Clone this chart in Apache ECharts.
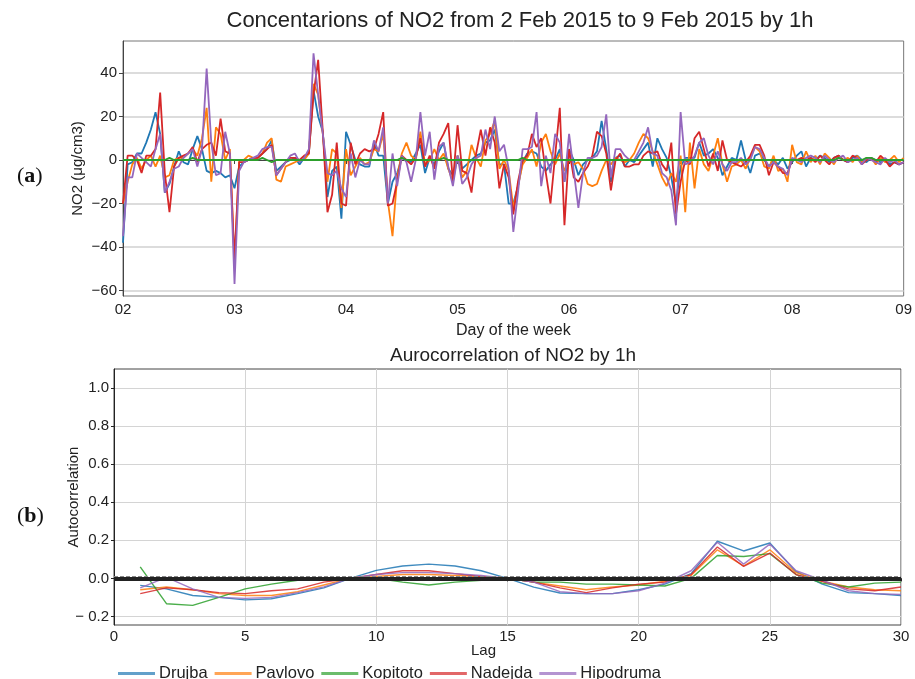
<!DOCTYPE html>
<html>
<head>
<meta charset="utf-8">
<script src="https://cdn.jsdelivr.net/npm/echarts@6/dist/echarts.min.js"></script>
<style>
  html, body { margin: 0; padding: 0; background: #fff; }
  #chart { width: 915px; height: 679px; }
</style>
</head>
<body>
<div id="chart"></div>
<script>
// --- dados: concentracoes horarias (02..09 fev), 169 pontos por estacao ---
const dayLabels = ['02', '03', '04', '05', '06', '07', '08', '09'];
const stations = ['Drujba', 'Pavlovo', 'Kopitoto', 'Nadejda', 'Hipodruma'];
const colors = ['#1f77b4', '#ff7f0e', '#2ca02c', '#d62728', '#9467bd'];

const drujba = [
  -38, -2, -1, 3, 3, 8, 14, 22, 12, -15, -11, -3, 4, -1, -2, 5, 11, 5, -5, -6, -5, -6, -8, -7,
  -13, -3, -1, 0, 1, 1, 3, 5, 9, -5, -3, -1, 0, 1, -2, 1, 3, 32, 20, 13, -17, -5, -3, -27,
  13, 7, 0, -2, -3, -3, 8, 2, 2, -20, -10, -6, 1, 0, -1, 3, 7, -6, 1, -2, 4, 8, -4, -7,
  2, -4, -2, 0, 2, 3, 8, 9, 14, -2, -2, -20, -20, -12, -1, 3, 4, 3, -3, -5, -2, 0, 5, -10,
  5, 0, -7, -2, 0, 1, 4, 18, 5, -10, 1, 2, -3, 0, -1, 2, 5, 8, -3, 10, 5, 1, -8, -20,
  -3, 1, 1, 1, 8, 2, 3, 5, 1, -7, -3, 1, 0, 9, 0, -6, 2, 3, 0, -3, 0, -2, 1, -4,
  -1, 2, 4, -3, 1, 0, 2, 1, -1, 1, 2, 0, -1, 1, 2, 0, -1, 1, 0, -1, 0, -2, -1, -2, -1
];
const pavlovo = [
  -20, -10, -2, 1, -4, 0, 2, -3, 2, -8, -7, 0, 1, 1, 3, 5, 2, 10, 24, -10, 15, 12, 0, 5,
  -48, 0, 0, 2, 1, 1, 3, 8, 10, -9, -10, -3, -2, -1, 0, 0, 3, 35, 30, 12, -10, 5, 3, -22,
  5, -7, -3, 1, -2, -1, 5, 4, 12, -19, -35, -8, 3, 8, 2, 0, 13, -2, 0, 5, 0, 3, -4, -10,
  2, -8, -5, 7, 1, -3, 9, 12, 18, -4, 0, -5, -22, -12, -2, 1, 5, -3, 8, 12, 4, -2, 3, -5,
  0, -2, -1, -4, -11, -12, -11, -5, 0, -2, 1, 0, -1, 0, 3, 8, 12, 10, 4, -2, -8, -12, -6, -10,
  2, -24, 8, -13, 5, -2, -5, 2, 10, -2, -10, -3, -2, 0, -4, 1, 6, 4, -3, -4, 2, -5, -4, -10,
  7, -1, -2, 4, -1, 2, -2, 3, 1, -2, 2, 0, 1, -1, 2, -1, 0, 1, -2, 1, -1, 0, 2, -1, 1
];
const kopitoto = [
  0, 0, 0, 0, 0, 0, 0, 0, 0, 0, 1, 0, 0, 0, 0, 1, 0, 0, 0, 0, 0, 0, 0, 0,
  0, 0, 0, 0, 0, 0, 1, 0, -1, 0, 0, 0, 0, 0, 0, 0, 0, 0, 0, 0, 0, 0, 0, 0,
  0, 0, 0, 0, 0, 0, 0, 0, 0, 0, 0, 0, 1, 0, 0, 0, 0, 0, 0, 0, 0, 1, 0, 0,
  0, 0, 0, 0, 0, 0, 0, 0, 0, 0, 0, 0, 0, 0, 1, 0, 0, 0, 0, 0, 0, 0, 0, 0,
  0, 0, 0, 0, 0, 0, 0, 0, 0, 0, 0, 0, 0, 0, 0, 0, 0, 0, 0, 0, 0, 0, 0, 0,
  0, 0, 0, 0, 0, 0, 0, 0, 0, 0, 0, 0, 0, 0, 0, 0, 0, 0, 0, 0, 0, 0, 0, 0,
  0, 0, 0, 0, 0, 0, 0, 0, 0, 0, 1, 0, 0, 0, 0, 0, 1, 1, 0, 0, 0, 0, 0, 0, 0
];
const nadejda = [
  -20, 2, 2, 0, -6, 2, 2, 5, 31, -6, -24, -3, 1, 2, 3, 6, -1, 5, 7, 8, 2, 19, 4, 3,
  -46, -1, -1, 0, 1, 1, 3, 5, 7, -7, -4, -1, 1, 1, 0, 2, 3, 30, 46, 13, -24, -16, 8, -20,
  -21, 8, -2, 3, 5, 4, 5, 12, 22, -21, -20, -10, 2, 0, -2, 1, 10, -3, 2, -4, 8, 12, 17, -10,
  16, -5, -6, -15, 3, 14, 2, 15, 8, -13, -2, -8, -25, -10, 0, 2, 12, 6, 10, -6, -20, 2, 24, -30,
  5, -8, -10, -6, -3, 2, 13, 11, 3, -14, 0, 3, -3, -3, -2, -2, 2, 4, 3, 4, -2, -5, 8, -25,
  -10, 0, -2, 10, 13, 5, -3, 3, -5, 9, 0, -1, -2, -3, -1, 2, 7, 7, 2, -7, -1, -3, -6, -6,
  0, 0, 1, 0, 1, -1, 2, 0, -2, 1, 2, 0, -1, 2, 1, -2, 0, 1, -1, 2, 0, -3, -1, -2, -1
];
const hipodruma = [
  -35, -8, -8, 3, 1, -1, -3, 5, 12, -15, -10, -4, -3, 1, 3, 5, -3, 5, 42, 8, -7, -6, 13, 3,
  -57, -5, -1, 0, 1, 2, 5, 6, 6, -7, -4, -1, 2, 3, -1, 1, 5, 49, 30, 12, -6, -7, -5, -13,
  -17, 3, -8, 0, -2, -2, 9, 4, 15, -20, 3, -12, 2, -1, -10, 0, 22, 2, 13, -9, 6, 8, -3, -12,
  2, -11, -8, -2, 1, 2, 14, 5, 20, 4, 7, -4, -33, -15, 5, 5, 6, 22, -12, 2, -6, 12, 8, -10,
  12, -5, -22, -6, 1, 1, 2, 6, 21, -8, 5, 5, 2, 0, 0, 4, 8, 15, 3, 2, -6, -8, -14, -30,
  22, -2, -1, 2, 8, 10, 2, -2, 4, -2, -5, -1, -1, 1, -2, 0, 6, 5, 1, -3, -1, -3, -4, -7,
  1, 0, -1, 1, 2, 1, -1, 2, 0, -1, 1, 2, -1, 0, 1, -2, 1, 0, -1, -2, 1, -1, 0, -2, -1
];

// --- dados: autocorrelacao, lags 1..30 ---
const lags = [1, 2, 3, 4, 5, 6, 7, 8, 9, 10, 11, 12, 13, 14, 15, 16, 17, 18, 19, 20, 21, 22, 23, 24, 25, 26, 27, 28, 29, 30];
const acfDrujba = [-0.037, -0.055, -0.09, -0.1, -0.113, -0.107, -0.08, -0.05, 0.0, 0.042, 0.065, 0.075, 0.065, 0.04, 0.0, -0.046, -0.077, -0.08, -0.08, -0.06, -0.03, 0.025, 0.195, 0.144, 0.186, 0.035, -0.03, -0.075, -0.08, -0.09];
const acfPavlovo = [-0.06, -0.045, -0.06, -0.08, -0.09, -0.09, -0.07, -0.035, 0.0, 0.01, 0.02, 0.02, 0.015, 0.01, 0.0, -0.02, -0.04, -0.06, -0.045, -0.035, -0.015, 0.015, 0.15, 0.065, 0.15, 0.03, -0.015, -0.045, -0.06, -0.065];
const acfKopitoto = [0.06, -0.133, -0.142, -0.1, -0.055, -0.03, -0.01, 0.0, 0.0, 0.0, -0.02, -0.035, -0.02, -0.01, 0.0, -0.02, -0.02, -0.03, -0.03, -0.035, -0.04, 0.0, 0.12, 0.115, 0.13, 0.02, -0.025, -0.045, -0.025, -0.02];
const acfNadejda = [-0.08, -0.05, -0.06, -0.075, -0.08, -0.065, -0.055, -0.02, 0.0, 0.02, 0.04, 0.04, 0.025, 0.01, 0.0, -0.02, -0.05, -0.075, -0.05, -0.03, -0.02, 0.02, 0.165, 0.063, 0.133, 0.02, -0.015, -0.055, -0.065, -0.045];
const acfHipodruma = [-0.05, 0.005, -0.055, -0.1, -0.105, -0.1, -0.075, -0.045, 0.0, 0.02, 0.03, 0.03, 0.025, 0.015, 0.0, -0.02, -0.07, -0.08, -0.08, -0.065, -0.025, 0.04, 0.19, 0.075, 0.18, 0.04, -0.01, -0.065, -0.08, -0.085];

const topTicks = [-60, -40, -20, 0, 20, 40];
const bottomTicks = [-0.2, 0, 0.2, 0.4, 0.6, 0.8, 1.0];
const confBand = 0.012;

const FONT = "'Liberation Sans', Arial, sans-serif";
const minus = (s) => String(s).replace('-', '\u2212');

const serieHoraria = [drujba, pavlovo, kopitoto, nadejda, hipodruma];
const serieAcf = [acfDrujba, acfPavlovo, acfKopitoto, acfNadejda, acfHipodruma];

const series = [];
serieHoraria.forEach((arr, i) => {
    series.push({
        name: stations[i] + '_h',
        type: 'line',
        xAxisIndex: 0, yAxisIndex: 0,
        data: arr.map((v, h) => [h, v]),
        symbol: 'none',
        z: i === 2 ? 4 : 2 + i * 0.1,
        lineStyle: { color: colors[i], width: 1.8 },
        itemStyle: { color: colors[i] }
    });
});
serieAcf.forEach((arr, i) => {
    series.push({
        name: stations[i],
        type: 'line',
        xAxisIndex: 1, yAxisIndex: 1,
        data: arr.map((v, k) => [lags[k], v]),
        symbol: 'none',
        lineStyle: { color: colors[i], width: 1.4, opacity: 0.85 },
        itemStyle: { color: colors[i], opacity: 0.7 },
        markLine: i === 0 ? {
            silent: true, symbol: 'none', label: { show: false },
            data: [
                { yAxis: confBand, lineStyle: { color: '#888', type: 'dashed', width: 1 } },
                { yAxis: -confBand, lineStyle: { color: '#888', type: 'dashed', width: 1 } },
                { yAxis: 0, lineStyle: { color: '#222', type: 'solid', width: 4 } }
            ]
        } : undefined
    });
});

const chart = echarts.init(document.getElementById('chart'));
chart.setOption({
    animation: false,
    backgroundColor: '#fff',
    textStyle: { fontFamily: FONT },
    title: [
        { text: 'Concentarions of NO2 from 2 Feb 2015 to 9 Feb 2015 by 1h', left: 515, top: 5, textAlign: 'center',
          textStyle: { fontSize: 22, fontWeight: 'normal', color: '#222', fontFamily: FONT } },
        { text: 'Aurocorrelation of NO2 by 1h', left: 508, top: 341, textAlign: 'center',
          textStyle: { fontSize: 19, fontWeight: 'normal', color: '#222', fontFamily: FONT } }
    ],
    legend: {
        data: stations,
        left: 113, top: 660,
        itemWidth: 37, itemHeight: 3, itemGap: 7,
        icon: 'rect',
        textStyle: { fontSize: 16.5, color: '#222', fontFamily: FONT, padding: [0, 0, 0, -1] }
    },
    grid: [
        { left: 123, top: 41, width: 783, height: 255, show: true, borderColor: '#777', borderWidth: 1 },
        { left: 114, top: 369, width: 787, height: 256, show: true, borderColor: '#444', borderWidth: 1 }
    ],
    xAxis: [
        {
            gridIndex: 0, type: 'value', min: 0, max: 168, interval: 24,
            name: 'Day of the week', nameLocation: 'middle', nameGap: 27, nameMoveOverlap: false,
            nameTextStyle: { fontSize: 16, color: '#222' },
            axisLine: { lineStyle: { color: '#444' } },
            axisTick: { show: true, length: 4, lineStyle: { color: '#444' } },
            axisLabel: { fontSize: 15, color: '#222', margin: 6, formatter: (v) => dayLabels[v / 24] },
            splitLine: { show: false }
        },
        {
            gridIndex: 1, type: 'value', min: 0, max: 30, interval: 5,
            name: 'Lag', nameLocation: 'middle', nameGap: 18, nameMoveOverlap: false,
            nameTextStyle: { fontSize: 15, color: '#222', padding: [0, 48, 0, 0] },
            axisLine: { lineStyle: { color: '#222' } },
            axisTick: { show: true, length: 3, lineStyle: { color: '#222' } },
            axisLabel: { fontSize: 15, color: '#222', margin: 4 },
            splitLine: { show: true, lineStyle: { color: '#d4d4d4', width: 1 } }
        }
    ],
    yAxis: [
        {
            gridIndex: 0, type: 'value', min: -62.5, max: 54.7,
            name: 'NO2 (\u03bcg/cm3)', nameLocation: 'middle', nameGap: 38, nameMoveOverlap: false,
            nameTextStyle: { fontSize: 15, color: '#222' },
            axisLine: { show: true, lineStyle: { color: '#444' } },
            axisTick: { show: true, length: 4, customValues: topTicks, lineStyle: { color: '#444' } },
            axisLabel: { fontSize: 15, color: '#222', margin: 6, customValues: topTicks, formatter: (v) => minus(v) },
            splitLine: { show: true, lineStyle: { color: '#d0d0d0', width: 1.5 } }
        },
        {
            gridIndex: 1, type: 'value', min: -0.245, max: 1.1,
            name: 'Autocorrelation', nameLocation: 'middle', nameGap: 33, nameMoveOverlap: false,
            nameTextStyle: { fontSize: 15, color: '#222' },
            axisLine: { show: true, lineStyle: { color: '#222' } },
            axisTick: { show: true, length: 3, customValues: bottomTicks, lineStyle: { color: '#222' } },
            axisLabel: { fontSize: 15, color: '#222', margin: 5, customValues: bottomTicks,
                         formatter: (v) => (v < 0 ? '\u2212 ' : '') + Math.abs(v).toFixed(1) },
            splitLine: { show: true, lineStyle: { color: '#d4d4d4', width: 1 } }
        }
    ],
    graphic: [
        { type: 'text', left: 17, top: 165, style: { text: '({a|a})', font: "22px 'Liberation Serif', serif", fill: '#111',
          rich: { a: { fontWeight: 'bold', fontSize: 22, fontFamily: "'Liberation Serif', serif" } } } },
        { type: 'text', left: 17, top: 505, style: { text: '({a|b})', font: "22px 'Liberation Serif', serif", fill: '#111',
          rich: { a: { fontWeight: 'bold', fontSize: 22, fontFamily: "'Liberation Serif', serif" } } } }
    ],
    series: series
});
window.addEventListener('resize', () => chart.resize());
</script>
</body>
</html>
